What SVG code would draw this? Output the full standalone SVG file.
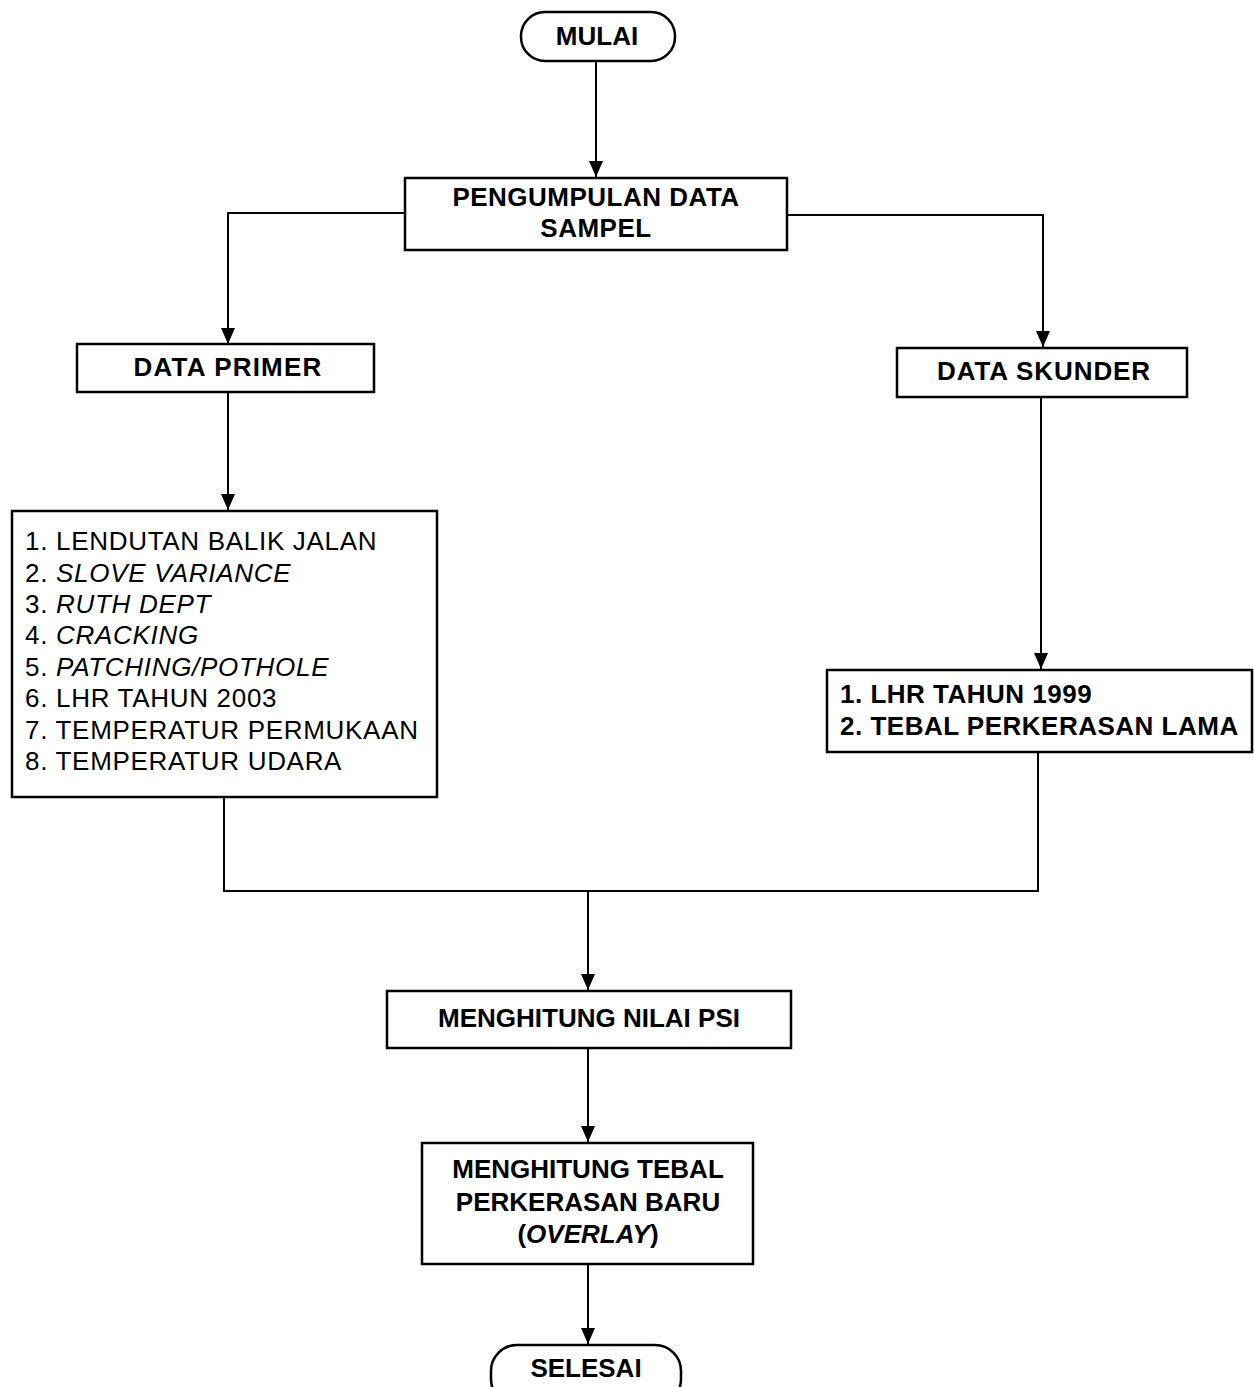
<svg xmlns="http://www.w3.org/2000/svg" width="1254" height="1387" viewBox="0 0 1254 1387">
<defs>
<marker id="arr" markerWidth="16" markerHeight="14" refX="16" refY="7" orient="auto" markerUnits="userSpaceOnUse" viewBox="0 0 16 14">
<path d="M0,0 L16,7 L0,14 Z" fill="#000"/>
</marker>
<style>
.box{fill:#fff;stroke:#000;stroke-width:2.5}
.t{font-family:"Liberation Sans",Arial,sans-serif;font-size:26px;font-weight:bold;fill:#000;text-anchor:middle}
.l{font-family:"Liberation Sans",Arial,sans-serif;font-size:26px;fill:#000;letter-spacing:0.7px}
.lb{font-family:"Liberation Sans",Arial,sans-serif;font-size:26px;font-weight:bold;fill:#000;letter-spacing:0.5px}
.c{fill:none;stroke:#000;stroke-width:2}
</style>
</defs>
<rect width="1254" height="1387" fill="#fff"/>
<g id="connectors">
<path class="c" d="M596,62 V177" marker-end="url(#arr)"/>
<path class="c" d="M405,213 H228 V344" marker-end="url(#arr)"/>
<path class="c" d="M787,215 H1043 V347" marker-end="url(#arr)"/>
<path class="c" d="M228,392 V510" marker-end="url(#arr)"/>
<path class="c" d="M1041,397 V669" marker-end="url(#arr)"/>
<path class="c" d="M224,797 V891 H1038 V753"/>
<path class="c" d="M588,891 V990" marker-end="url(#arr)"/>
<path class="c" d="M588,1048 V1142" marker-end="url(#arr)"/>
<path class="c" d="M588,1264 V1344" marker-end="url(#arr)"/>
</g>
<g id="mulai">
<rect class="box" x="521" y="12" width="154" height="49" rx="24" ry="24"/>
<text class="t" x="597" y="45">MULAI</text>
</g>
<g id="pengumpulan">
<rect class="box" x="405" y="178" width="382" height="72"/>
<text class="t" x="596" y="206" letter-spacing="0.5">PENGUMPULAN DATA</text>
<text class="t" x="596" y="237" letter-spacing="0.5">SAMPEL</text>
</g>
<g id="data-primer">
<rect class="box" x="77" y="344" width="297" height="48"/>
<text class="t" x="228" y="376" letter-spacing="1.2">DATA PRIMER</text>
</g>
<g id="data-skunder">
<rect class="box" x="897" y="348" width="290" height="49"/>
<text class="t" x="1044" y="380" letter-spacing="0.9">DATA SKUNDER</text>
</g>
<g id="list-primer">
<rect class="box" x="12" y="511" width="425" height="286"/>
<text class="l" x="25" y="550">1. LENDUTAN BALIK JALAN</text>
<text class="l" x="25" y="582">2. <tspan font-style="italic">SLOVE VARIANCE</tspan></text>
<text class="l" x="25" y="613">3. <tspan font-style="italic">RUTH DEPT</tspan></text>
<text class="l" x="25" y="644">4. <tspan font-style="italic">CRACKING</tspan></text>
<text class="l" x="25" y="676">5. <tspan font-style="italic">PATCHING/POTHOLE</tspan></text>
<text class="l" x="25" y="707">6. LHR TAHUN 2003</text>
<text class="l" x="25" y="739">7. TEMPERATUR PERMUKAAN</text>
<text class="l" x="25" y="770">8. TEMPERATUR UDARA</text>
</g>
<g id="list-skunder">
<rect class="box" x="827" y="670" width="425" height="82"/>
<text class="lb" x="840" y="703">1. LHR TAHUN 1999</text>
<text class="lb" x="840" y="735">2. TEBAL PERKERASAN LAMA</text>
</g>
<g id="psi">
<rect class="box" x="387" y="991" width="404" height="57"/>
<text class="t" x="589" y="1027" font-size="25">MENGHITUNG NILAI PSI</text>
</g>
<g id="overlay">
<rect class="box" x="422" y="1143" width="331" height="121"/>
<text class="t" x="588" y="1178">MENGHITUNG TEBAL</text>
<text class="t" x="588" y="1211">PERKERASAN BARU</text>
<text class="t" x="588" y="1243">(<tspan font-style="italic">OVERLAY</tspan>)</text>
</g>
<g id="selesai">
<rect class="box" x="491" y="1345" width="190" height="60" rx="26" ry="26"/>
<text class="t" x="586" y="1377">SELESAI</text>
</g>
</svg>
